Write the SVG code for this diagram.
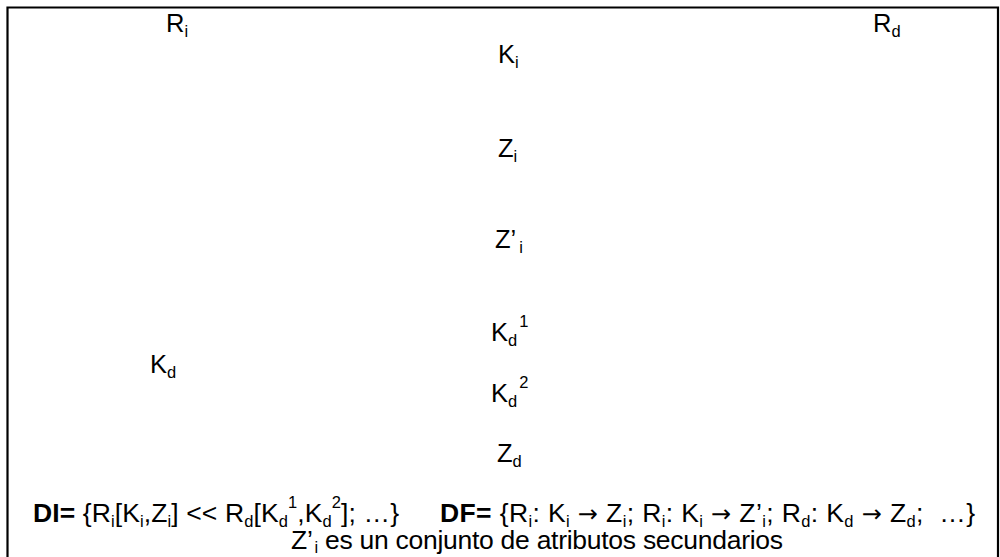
<svg xmlns="http://www.w3.org/2000/svg" width="1000" height="557" viewBox="0 0 1000 557">
<style>
text{font-family:"Liberation Sans",Arial,sans-serif;font-size:25.5px;fill:#000}
.f{font-size:26.5px}
.s{font-size:16.5px}
.b{font-weight:bold}
.a{font-family:"DejaVu Sans",sans-serif;font-size:24px}
</style>
<rect x="0" y="0" width="1000" height="557" fill="#fff"/>
<g id="frame"><path d="M7.5,570 V7.5 H998 V570" fill="none" stroke="#000" stroke-width="2.2"/></g>
<g id="connectors"></g>
<g id="Ri"><text x="166" y="32">R<tspan class="s" dy="5">i</tspan></text></g>
<g id="Rd"><text x="873" y="32">R<tspan class="s" dy="5">d</tspan></text></g>
<g id="Ki"><text x="498" y="63">K<tspan class="s" dy="5">i</tspan></text></g>
<g id="Zi"><text x="498" y="157">Z<tspan class="s" dy="5">i</tspan></text></g>
<g id="Zpi"><text x="495" y="248">Z’<tspan class="s" dx="3" dy="5">i</tspan></text></g>
<g id="Kd1"><text x="491" y="341">K<tspan class="s" dy="5">d</tspan><tspan class="s" dx="2" dy="-19">1</tspan></text></g>
<g id="Kd"><text x="150" y="373">K<tspan class="s" dy="5">d</tspan></text></g>
<g id="Kd2"><text x="491" y="402">K<tspan class="s" dy="5">d</tspan><tspan class="s" dx="2" dy="-19">2</tspan></text></g>
<g id="Zd"><text x="497" y="462">Z<tspan class="s" dy="5">d</tspan></text></g>
<g id="formulas">
<text class="f" x="33" y="522" textLength="366" lengthAdjust="spacing" xml:space="preserve"><tspan class="b">DI=</tspan> {R<tspan class="s" dy="5">i</tspan><tspan dy="-5">[K</tspan><tspan class="s" dy="5">i</tspan><tspan dy="-5">,Z</tspan><tspan class="s" dy="5">i</tspan><tspan dy="-5">] &lt;&lt; R</tspan><tspan class="s" dy="5">d</tspan><tspan dy="-5">[K</tspan><tspan class="s" dy="5">d</tspan><tspan class="s" dy="-19">1</tspan><tspan dy="14">,K</tspan><tspan class="s" dy="5">d</tspan><tspan class="s" dy="-19">2</tspan><tspan dy="14">]; …}</tspan></text>
<text class="f" x="440" y="522" textLength="535" lengthAdjust="spacing" xml:space="preserve"><tspan class="b">DF=</tspan> {R<tspan class="s" dy="5">i</tspan><tspan dy="-5">: K</tspan><tspan class="s" dy="5">i</tspan><tspan dy="-5"> </tspan><tspan class="a">→</tspan> Z<tspan class="s" dy="5">i</tspan><tspan dy="-5">; R</tspan><tspan class="s" dy="5">i</tspan><tspan dy="-5">: K</tspan><tspan class="s" dy="5">i</tspan><tspan dy="-5"> </tspan><tspan class="a">→</tspan> Z’<tspan class="s" dy="5">i</tspan><tspan dy="-5">; R</tspan><tspan class="s" dy="5">d</tspan><tspan dy="-5">: K</tspan><tspan class="s" dy="5">d</tspan><tspan dy="-5"> </tspan><tspan class="a">→</tspan> Z<tspan class="s" dy="5">d</tspan><tspan dy="-5">;  …}</tspan></text>
<text class="f" x="291" y="549" textLength="492" lengthAdjust="spacing">Z’<tspan class="s" dx="2" dy="4">i</tspan><tspan dy="-4"> es un conjunto de atributos secundarios</tspan></text>
</g>
</svg>
